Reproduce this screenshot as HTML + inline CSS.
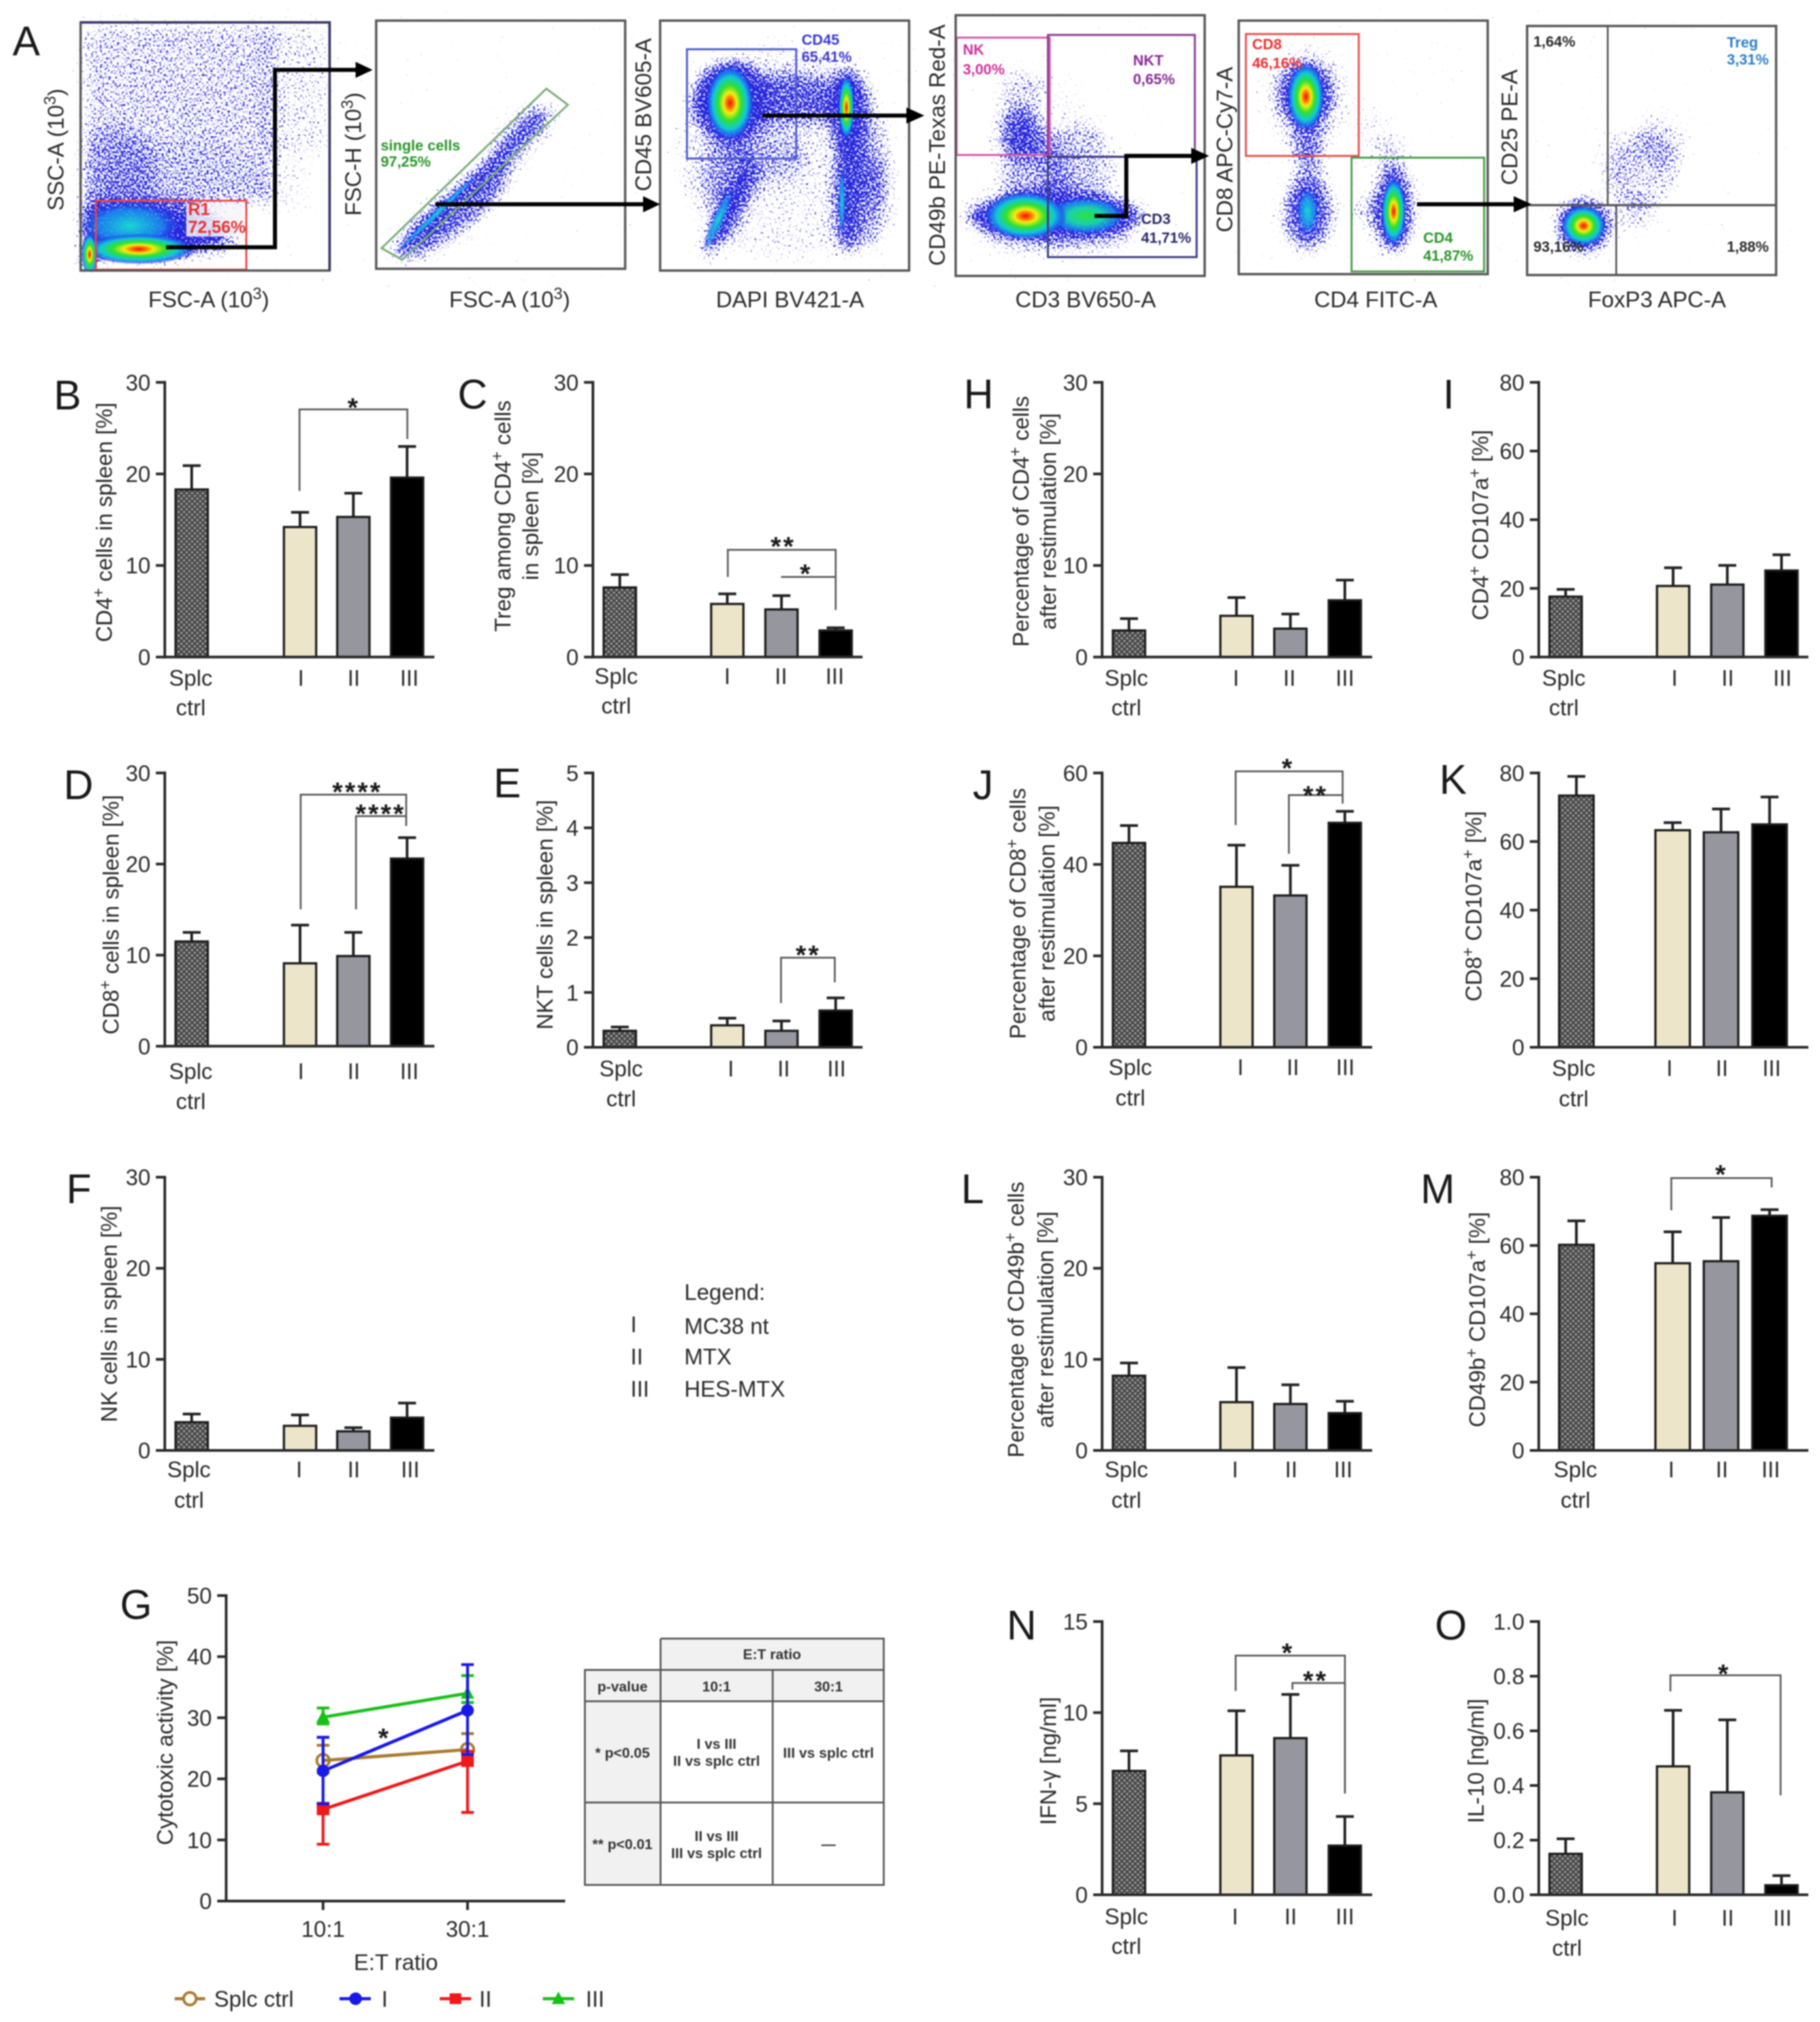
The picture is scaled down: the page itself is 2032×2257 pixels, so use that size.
<!DOCTYPE html>
<html lang="en">
<head>
<meta charset="utf-8">
<title>Flow cytometry and immune response panels</title>
<style>
html,body{margin:0;padding:0;background:#fff;width:2032px;height:2257px;overflow:hidden}
svg{display:block;filter:blur(0.8px)}
text{font-family:"Liberation Sans",sans-serif;fill:#2b2b2b;white-space:pre}
.axl{font-size:25px;text-anchor:middle}
.gl{font-size:16.5px;font-weight:bold}
.pl{font-size:46px;fill:#1a1a1a}
.tb{font-size:16px;font-weight:bold;text-anchor:middle;fill:#333}
.gate{fill:none;stroke-width:2.2}
.frame{fill:none;stroke:#555;stroke-width:2.6}
.arr{fill:none;stroke:#000;stroke-width:4.5}
</style>
</head>
<body>
<svg id="fig" xmlns="http://www.w3.org/2000/svg" width="2032" height="2257" viewBox="0 0 2032 2257">
<defs>
  <pattern id="hatch" width="6" height="6" patternUnits="userSpaceOnUse">
    <rect width="6" height="6" fill="#4a4a4a"/>
    <circle cx="1.5" cy="1.5" r="1.2" fill="#a8a8a8"/>
    <circle cx="4.5" cy="4.5" r="1.2" fill="#a8a8a8"/>
  </pattern>
  <radialGradient id="heat">
    <stop offset="0" stop-color="#f01010"/>
    <stop offset=".14" stop-color="#ff7000"/>
    <stop offset=".27" stop-color="#f4ee10"/>
    <stop offset=".47" stop-color="#30e030"/>
    <stop offset=".7" stop-color="#10c8d8"/>
    <stop offset=".88" stop-color="#1e60f0" stop-opacity=".8"/>
    <stop offset="1" stop-color="#1a1ae6" stop-opacity="0"/>
  </radialGradient>
  <radialGradient id="warm">
    <stop offset="0" stop-color="#30e040"/>
    <stop offset=".45" stop-color="#18d0b0"/>
    <stop offset=".8" stop-color="#1880f0" stop-opacity=".8"/>
    <stop offset="1" stop-color="#1a1ae6" stop-opacity="0"/>
  </radialGradient>
  <radialGradient id="cool">
    <stop offset="0" stop-color="#18d8d0"/>
    <stop offset=".6" stop-color="#1890f0" stop-opacity=".8"/>
    <stop offset="1" stop-color="#1a1ae6" stop-opacity="0"/>
  </radialGradient>
  <filter id="speckle" filterUnits="userSpaceOnUse" x="80" y="10" width="1920" height="310" color-interpolation-filters="sRGB">
    <feGaussianBlur in="SourceAlpha" stdDeviation="9" result="d"/>
    <feTurbulence type="fractalNoise" baseFrequency="0.42" numOctaves="2" seed="7" result="n"/>
    <feColorMatrix in="n" type="matrix" values="0 0 0 0 0  0 0 0 0 0  0 0 0 0 0  1 0 0 0 0" result="na"/>
    <feComposite in="d" in2="na" operator="arithmetic" k1="0" k2="0.55" k3="1" k4="-0.8" result="sum"/>
    <feComponentTransfer in="sum" result="mask"><feFuncA type="linear" slope="6" intercept="0"/></feComponentTransfer>
    <feFlood flood-color="#2626dc"/>
    <feComposite in2="mask" operator="in"/>
  </filter>
  <clipPath id="cp1"><rect x="90" y="25" width="278" height="277"/></clipPath>
  <clipPath id="cp2"><rect x="420" y="23" width="278" height="277"/></clipPath>
  <clipPath id="cp3"><rect x="737" y="23" width="278" height="279"/></clipPath>
  <clipPath id="cp4"><rect x="1067" y="17" width="278" height="291"/></clipPath>
  <clipPath id="cp5"><rect x="1383" y="23" width="278" height="283"/></clipPath>
  <clipPath id="cp6"><rect x="1705" y="29" width="278" height="278"/></clipPath>
</defs>
<rect width="2032" height="2257" fill="#fff"/>

<!-- Flow cytometry density clouds -->
<g filter="url(#speckle)">
  <g clip-path="url(#cp1)">
    <rect x="90" y="20" width="215" height="210" opacity=".48"/>
    <rect x="295" y="20" width="75" height="150" opacity=".36"/>
    <rect x="295" y="165" width="50" height="75" opacity=".26"/>
    <ellipse cx="130" cy="195" rx="45" ry="55" opacity=".35"/>
    <ellipse cx="205" cy="205" rx="95" ry="48" opacity=".15"/>
    <ellipse cx="150" cy="256" rx="105" ry="32" opacity="1"/>
    <ellipse cx="215" cy="278" rx="70" ry="10" transform="rotate(-8 215 278)" opacity=".7"/>
    <ellipse cx="100" cy="270" rx="16" ry="34" opacity="1"/>
  </g>
  <g clip-path="url(#cp2)">
    <ellipse cx="528" cy="203" rx="128" ry="9" transform="rotate(-44 528 203)" opacity="1"/>
    <ellipse cx="505" cy="240" rx="80" ry="25" transform="rotate(-37 505 240)" opacity=".75"/>
    <ellipse cx="575" cy="160" rx="48" ry="24" transform="rotate(-60 575 160)" opacity=".45"/>
    <ellipse cx="602" cy="135" rx="18" ry="20" opacity=".45"/>
  </g>
  <g clip-path="url(#cp3)">
    <ellipse cx="815" cy="112" rx="44" ry="46" opacity="1"/>
    <ellipse cx="880" cy="110" rx="70" ry="30" opacity=".7"/>
    <ellipse cx="948" cy="125" rx="22" ry="52" opacity="1"/>
    <ellipse cx="945" cy="210" rx="14" ry="80" opacity=".9"/>
    <ellipse cx="815" cy="235" rx="13" ry="62" transform="rotate(28 815 235)" opacity="1"/>
    <ellipse cx="812" cy="195" rx="32" ry="45" opacity=".5"/>
    <ellipse cx="860" cy="175" rx="45" ry="30" opacity=".4"/>
    <ellipse cx="965" cy="225" rx="32" ry="58" opacity=".55"/>
    <ellipse cx="975" cy="180" rx="18" ry="50" opacity=".3"/>
    <ellipse cx="875" cy="170" rx="125" ry="122" opacity=".3"/>
  </g>
  <g clip-path="url(#cp4)">
    <ellipse cx="1178" cy="241" rx="102" ry="28" opacity="1"/>
    <ellipse cx="1139" cy="150" rx="24" ry="30" opacity=".8"/>
    <ellipse cx="1155" cy="195" rx="38" ry="55" opacity=".45"/>
    <ellipse cx="1205" cy="185" rx="45" ry="50" opacity=".42"/>
    <ellipse cx="1140" cy="105" rx="26" ry="35" opacity=".35"/>
    <ellipse cx="1180" cy="270" rx="90" ry="18" opacity=".4"/>
    <ellipse cx="1165" cy="165" rx="65" ry="90" opacity=".2"/>
  </g>
  <g clip-path="url(#cp5)">
    <ellipse cx="1458" cy="105" rx="32" ry="38" opacity=".95"/>
    <ellipse cx="1460" cy="155" rx="20" ry="32" opacity=".65"/>
    <ellipse cx="1462" cy="205" rx="22" ry="38" opacity=".5"/>
    <ellipse cx="1460" cy="240" rx="30" ry="42" opacity=".8"/>
    <ellipse cx="1556" cy="235" rx="24" ry="50" opacity=".95"/>
    <ellipse cx="1530" cy="235" rx="30" ry="18" opacity=".4"/>
    <ellipse cx="1555" cy="180" rx="18" ry="28" opacity=".45"/>
    <ellipse cx="1535" cy="150" rx="22" ry="32" opacity=".25"/>
    <ellipse cx="1460" cy="110" rx="55" ry="65" opacity=".25"/>
  </g>
  <g clip-path="url(#cp6)">
    <ellipse cx="1768" cy="252" rx="32" ry="32" opacity="1"/>
    <ellipse cx="1825" cy="240" rx="22" ry="22" opacity=".42"/>
    <ellipse cx="1835" cy="190" rx="42" ry="45" opacity=".42"/>
    <ellipse cx="1855" cy="155" rx="30" ry="32" opacity=".36"/>
    <ellipse cx="1800" cy="180" rx="22" ry="40" opacity=".25"/>
  </g>
</g>

<!-- Pseudo-colour density peaks -->
<g>
  <g clip-path="url(#cp1)">
    <ellipse cx="145" cy="252" rx="60" ry="30" fill="url(#cool)"/>
    <ellipse cx="155" cy="278" rx="62" ry="17" fill="url(#heat)"/>
    <ellipse cx="100" cy="284" rx="9" ry="24" fill="url(#heat)"/>
  </g>
  <ellipse cx="488" cy="238" rx="72" ry="4" transform="rotate(-44 488 238)" fill="url(#cool)"/>
  <g>
    <ellipse cx="815" cy="115" rx="27" ry="42" fill="url(#heat)"/>
    <ellipse cx="945" cy="120" rx="9" ry="36" fill="url(#heat)"/>
    <ellipse cx="802" cy="245" rx="7" ry="40" transform="rotate(24 802 245)" fill="url(#cool)"/>
    <ellipse cx="940" cy="225" rx="4" ry="40" fill="url(#cool)"/>
  </g>
  <g>
    <ellipse cx="1212" cy="241" rx="44" ry="21" fill="url(#warm)"/>
    <ellipse cx="1145" cy="241" rx="46" ry="27" fill="url(#heat)"/>
  </g>
  <g>
    <ellipse cx="1458" cy="108" rx="21" ry="38" fill="url(#heat)"/>
    <ellipse cx="1460" cy="236" rx="13" ry="28" fill="url(#cool)"/>
    <ellipse cx="1556" cy="236" rx="14" ry="38" fill="url(#heat)"/>
  </g>
  <ellipse cx="1768" cy="252" rx="25" ry="23" fill="url(#heat)"/>
</g>

<!-- Gates -->
<g>
  <rect x="208" y="227" width="64" height="37" fill="#f4f4fa" opacity=".85"/>
  <rect class="gate" x="107" y="224" width="168" height="77" stroke="#e84848"/>
  <polygon class="gate" points="610,99 634,117 449,290 426,277" stroke="#79ac79"/>
  <rect class="gate" x="767" y="55" width="122" height="122" stroke="#4a5ad0"/>
  <rect class="gate" x="1068" y="42" width="104" height="131" stroke="#d458aa"/>
  <rect class="gate" x="1170" y="39" width="164" height="136" stroke="#8a3a90"/>
  <rect class="gate" x="1170" y="175" width="166" height="112" stroke="#3a3a80"/>
  <rect class="gate" x="1391" y="38" width="126" height="136" stroke="#e85050"/>
  <rect class="gate" x="1509" y="176" width="148" height="127" stroke="#4a9a4a"/>
  <line x1="1795" y1="29" x2="1795" y2="230" stroke="#555" stroke-width="2"/>
  <line x1="1804.5" y1="230" x2="1804.5" y2="307" stroke="#555" stroke-width="2"/>
  <line x1="1705" y1="229" x2="1982" y2="229" stroke="#555" stroke-width="2.4"/>
</g>

<!-- Plot frames -->
<g>
  <rect class="frame" x="90" y="25" width="278" height="277"/>
  <path d="M90 25H368V302" fill="none" stroke="#34346e" stroke-width="2.6"/>
  <rect class="frame" x="420" y="23" width="278" height="277"/>
  <rect class="frame" x="737" y="23" width="278" height="279"/>
  <rect class="frame" x="1067" y="17" width="278" height="291"/>
  <rect class="frame" x="1383" y="23" width="278" height="283"/>
  <rect class="frame" x="1705" y="29" width="278" height="278"/>
</g>

<!-- Gating arrows -->
<g>
  <path class="arr" d="M185.5 276H307V78H400"/>
  <polygon points="397,69 397,87 416,78"/>
  <path class="arr" d="M486 228H722"/>
  <polygon points="718,219 718,237 737,228"/>
  <path class="arr" d="M851 129H1016"/>
  <polygon points="1012,120 1012,138 1032,129"/>
  <path class="arr" d="M1222 241H1257.5V174H1333"/>
  <polygon points="1330,165 1330,183 1350,174"/>
  <path class="arr" d="M1582 228H1694"/>
  <polygon points="1690,219 1690,237 1710,228"/>
</g>

<!-- Flow axis labels -->
<g>
  <text class="axl" x="233" y="343">FSC-A (10<tspan dy="-9" font-size="18">3</tspan><tspan dy="9">)</tspan></text>
  <text class="axl" x="569" y="343">FSC-A (10<tspan dy="-9" font-size="18">3</tspan><tspan dy="9">)</tspan></text>
  <text class="axl" x="882" y="343">DAPI BV421-A</text>
  <text class="axl" x="1212" y="343">CD3 BV650-A</text>
  <text class="axl" x="1536" y="343">CD4 FITC-A</text>
  <text class="axl" x="1850" y="343">FoxP3 APC-A</text>
  <text class="axl" transform="translate(71 167) rotate(-90)">SSC-A (10<tspan dy="-9" font-size="18">3</tspan><tspan dy="9">)</tspan></text>
  <text class="axl" transform="translate(403 172) rotate(-90)">FSC-H (10<tspan dy="-9" font-size="18">3</tspan><tspan dy="9">)</tspan></text>
  <text class="axl" transform="translate(727 128) rotate(-90)">CD45 BV605-A</text>
  <text class="axl" transform="translate(1055 162) rotate(-90)">CD49b PE-Texas Red-A</text>
  <text class="axl" transform="translate(1376 167) rotate(-90)">CD8 APC-Cy7-A</text>
  <text class="axl" transform="translate(1694 142) rotate(-90)">CD25 PE-A</text>
</g>

<!-- Gate labels -->
<g>
  <text class="gl" style="fill:#e83030;font-size:19px"><tspan x="210" y="240">R1</tspan><tspan x="210" y="260">72,56%</tspan></text>
  <text class="gl" style="fill:#2a962a"><tspan x="425" y="168">single cells</tspan><tspan x="425" y="186">97,25%</tspan></text>
  <text class="gl" style="fill:#3a3ad0"><tspan x="895" y="50">CD45</tspan><tspan x="895" y="69">65,41%</tspan></text>
  <text class="gl" style="fill:#d0309a"><tspan x="1075" y="61">NK</tspan><tspan x="1075" y="83">3,00%</tspan></text>
  <text class="gl" style="fill:#8a2a9a"><tspan x="1265" y="73">NKT</tspan><tspan x="1265" y="94">0,65%</tspan></text>
  <text class="gl" style="fill:#2a2a6a"><tspan x="1274" y="250">CD3</tspan><tspan x="1274" y="271">41,71%</tspan></text>
  <text class="gl" style="fill:#f03030"><tspan x="1398" y="55">CD8</tspan><tspan x="1398" y="76">46,16%</tspan></text>
  <text class="gl" style="fill:#2a962a"><tspan x="1589" y="271">CD4</tspan><tspan x="1589" y="291">41,87%</tspan></text>
  <text class="gl" x="1712" y="52">1,64%</text>
  <text class="gl" style="fill:#2a80c8"><tspan x="1928" y="53">Treg</tspan><tspan x="1928" y="72">3,31%</tspan></text>
  <text class="gl" x="1712" y="281">93,16%</text>
  <text class="gl" x="1928" y="281">1,88%</text>
</g>

<!-- Panel letters -->
<g>
  <text class="pl" x="14" y="62">A</text>
  <text class="pl" x="60" y="457">B</text>
  <text class="pl" x="511" y="456">C</text>
  <text class="pl" x="71" y="892">D</text>
  <text class="pl" x="551" y="890">E</text>
  <text class="pl" x="74" y="1343">F</text>
  <text class="pl" x="134" y="1807">G</text>
  <text class="pl" x="1076" y="456">H</text>
  <text class="pl" x="1611" y="456">I</text>
  <text class="pl" x="1086" y="892">J</text>
  <text class="pl" x="1607" y="886">K</text>
  <text class="pl" x="1073" y="1343">L</text>
  <text class="pl" x="1586" y="1343">M</text>
  <text class="pl" x="1124" y="1830">N</text>
  <text class="pl" x="1602" y="1830">O</text>
</g>

<!-- Group key -->
<g font-size="25">
  <text x="764" y="1451" font-size="25">Legend:</text>
  <text x="704" y="1487" font-size="25">I</text>
  <text x="764" y="1489" font-size="25">MC38 nt</text>
  <text x="704" y="1523" font-size="25">II</text>
  <text x="764" y="1523" font-size="25">MTX</text>
  <text x="704" y="1559" font-size="25">III</text>
  <text x="764" y="1559" font-size="25">HES-MTX</text>
</g>

<!-- Significance table -->
<g>
  <rect x="737.5" y="1829" width="249" height="70" fill="#f1f1f1"/>
  <rect x="653" y="1864" width="84.5" height="240" fill="#f1f1f1"/>
  <path d="M737.5 1829H986.7V2104H653V1864H986.7M653 1899H986.7M653 2012H986.7M737.5 1829V2104M862.7 1864V2104" fill="none" stroke="#555" stroke-width="2"/>
  <text class="tb" x="862" y="1852">E:T ratio</text>
  <text class="tb" x="695" y="1888">p-value</text>
  <text class="tb" x="800" y="1888">10:1</text>
  <text class="tb" x="925" y="1888">30:1</text>
  <text class="tb" x="695" y="1962">* p&lt;0.05</text>
  <text class="tb" x="800" y="1952">I vs III</text>
  <text class="tb" x="800" y="1971">II vs splc ctrl</text>
  <text class="tb" x="925" y="1962">III vs splc ctrl</text>
  <text class="tb" x="695" y="2064">** p&lt;0.01</text>
  <text class="tb" x="800" y="2055">II vs III</text>
  <text class="tb" x="800" y="2074">III vs splc ctrl</text>
  <text class="tb" x="925" y="2064">—</text>
</g>

<!-- Panel G legend -->
<g>
  <g>
    <line x1="195" y1="2231" x2="229" y2="2231" stroke="#a87a30" stroke-width="3.5"/>
    <circle cx="212" cy="2231" r="7" fill="#fff" stroke="#a87a30" stroke-width="3"/>
    <text x="239" y="2240" font-size="25">Splc ctrl</text>
  </g>
  <g>
    <line x1="379" y1="2231" x2="414" y2="2231" stroke="#1818e8" stroke-width="3.5"/>
    <circle cx="397" cy="2231" r="7" fill="#1818e8"/>
    <text x="426" y="2240" font-size="25">I</text>
  </g>
  <g>
    <line x1="491" y1="2231" x2="526" y2="2231" stroke="#f01818" stroke-width="3.5"/>
    <rect x="502" y="2225" width="13" height="12" fill="#f01818"/>
    <text x="535" y="2240" font-size="25">II</text>
  </g>
  <g>
    <line x1="606" y1="2231" x2="641" y2="2231" stroke="#18c018" stroke-width="3.5"/>
    <polygon points="623.5,2223 631,2237 616,2237" fill="#18c018"/>
    <text x="654" y="2240" font-size="25">III</text>
  </g>
</g>

<g id="charts"></g>
</svg>

<script>
const categories = ['Splc', 'I', 'II', 'III'];
const ticks30 = ['0', '10', '20', '30'];
const ticks80 = ['0', '20', '40', '60', '80'];

const panelB_values = [18.3, 14.2, 15.3, 19.6];
const panelB_upper = [20.9, 15.8, 17.9, 23.0];
const panelC_values = [7.6, 5.8, 5.2, 2.9];
const panelC_upper = [9.0, 6.9, 6.7, 3.2];
const panelD_values = [11.5, 9.1, 9.9, 20.6];
const panelD_upper = [12.5, 13.3, 12.5, 22.9];
const panelE_values = [0.3, 0.4, 0.3, 0.67];
const panelE_upper = [0.37, 0.53, 0.48, 0.9];
const panelE_ticks = ['0', '1', '2', '3', '4', '5'];
const panelF_values = [3.1, 2.7, 2.1, 3.6];
const panelF_upper = [4.0, 3.9, 2.5, 5.2];
const panelH_values = [2.9, 4.5, 3.1, 6.2];
const panelH_upper = [4.2, 6.5, 4.7, 8.4];
const panelI_values = [17.6, 20.7, 21.1, 25.2];
const panelI_upper = [19.7, 26.0, 26.7, 29.8];
const panelJ_values = [44.7, 35.1, 33.2, 49.1];
const panelJ_upper = [48.5, 44.2, 39.8, 51.6];
const panelJ_ticks = ['0', '20', '40', '60'];
const panelK_values = [73.4, 63.3, 62.7, 65.0];
const panelK_upper = [79.0, 65.5, 69.5, 73.0];
const panelL_values = [8.2, 5.3, 5.1, 4.1];
const panelL_upper = [9.6, 9.1, 7.2, 5.4];
const panelM_values = [60.2, 54.8, 55.4, 68.7];
const panelM_upper = [67.2, 64.0, 68.2, 70.5];
const panelN_values = [6.8, 7.65, 8.6, 2.7];
const panelN_upper = [7.9, 10.1, 11.0, 4.3];
const panelN_ticks = ['0', '5', '10', '15'];
const panelO_values = [0.15, 0.47, 0.375, 0.035];
const panelO_upper = [0.205, 0.675, 0.64, 0.07];
const panelO_ticks = ['0.0', '0.2', '0.4', '0.6', '0.8', '1.0'];

const ratioLabels = ['10:1', '30:1'];
const panelG_ticks = ['0', '10', '20', '30', '40', '50'];
const splc_values = [23.0, 24.8];
const splc_upper = [25.5, 27.4];
const splc_lower = [21.0, 22.5];
const groupI_values = [21.3, 31.2];
const groupI_upper = [26.8, 38.7];
const groupI_lower = [15.9, 24.0];
const groupII_values = [15.0, 22.9];
const groupII_upper = [16.0, 24.5];
const groupII_lower = [9.3, 14.5];
const groupIII_values = [30.1, 34.0];
const groupIII_upper = [31.6, 36.9];
const groupIII_lower = [29.0, 32.5];

const NS = 'http://www.w3.org/2000/svg';
const root = document.getElementById('charts');
const barFills = ['url(#hatch)', '#ece5ca', '#96969e', '#000'];

function mk(tag, attrs, parent, text) {
  const el = document.createElementNS(NS, tag);
  for (const k in attrs) el.setAttribute(k, attrs[k]);
  if (text !== undefined) el.textContent = text;
  parent.appendChild(el);
  return el;
}

function richText(el, str) {
  const parts = str.split('^');
  parts.forEach((part, i) => {
    if (i === 0) { mk('tspan', {}, el, part); return; }
    mk('tspan', {dy: -9, 'font-size': 18}, el, part[0]);
    mk('tspan', {dy: 9}, el, part.slice(1));
  });
}

function yTitle(parent, str, cx, cy, key) {
  const t = mk('text', {transform: 'translate(' + (cx + 9) + ' ' + cy + ') rotate(-90)', 'text-anchor': 'middle', 'font-size': 25}, parent);
  
  
  richText(t, str);
}

function drawYAxis(parent, p, yScale) {
  const axis = mk('line', {x1: p.axisX, x2: p.axisX, y1: p.yTop - 1.5, y2: p.y0 + 1.5, stroke: '#2b2b2b', 'stroke-width': 3}, parent);
  
  
  p.ticks.forEach(label => {
    const y = yScale(Number(label));
    const tick = mk('line', {x1: p.axisX - 10, x2: p.axisX, y1: y, y2: y, stroke: '#2b2b2b', 'stroke-width': 3}, parent);
    
    
    const txt = mk('text', {x: p.axisX - 16, y: y + 9, 'text-anchor': 'end', 'font-size': 25}, parent, label);
    
    
  });
}

function drawBracket(parent, b, id) {
  const [x1, x2, top, yl, yr, stars, sx, sy] = b;
  const line = mk('path', {d: 'M' + x1 + ' ' + yl + 'V' + top + 'H' + x2 + 'V' + yr, fill: 'none', stroke: '#5a5a5a', 'stroke-width': 2}, parent);
  
  
  const star = mk('text', {x: sx, y: sy + 18, 'text-anchor': 'middle', 'font-size': 30, 'font-weight': 'bold', 'letter-spacing': 2.3, style: 'fill:#1a1a1a'}, parent, stars);
  
  
}

function drawBarPanel(p) {
  const g = mk('g', {}, root);
  
  
  const yScale = v => p.y0 - (v / p.max) * (p.y0 - p.yTop);
  const w = p.barWidth || 38.5;
  p.values.forEach((v, i) => {
    const cx = p.centers[i];
    const err = mk('path', {d: 'M' + cx + ' ' + yScale(v) + 'V' + yScale(p.upper[i]) + 'M' + (cx - 10) + ' ' + yScale(p.upper[i]) + 'H' + (cx + 10), fill: 'none', stroke: '#222', 'stroke-width': 3}, g);
    
    
    const bar = mk('rect', {x: cx - w / 2 + 1.25, y: yScale(v), width: w - 2.5, height: p.y0 - yScale(v), fill: barFills[i], stroke: '#1c1c1c', 'stroke-width': 2.5}, g);
    
    
  });
  const xAxis = mk('line', {x1: p.axisX - 1.5, x2: p.axisEnd, y1: p.y0, y2: p.y0, stroke: '#2b2b2b', 'stroke-width': 3}, g);
  
  
  drawYAxis(g, p, yScale);
  categories.forEach((c, i) => {
    const lab = mk('text', {x: p.labelX[i], y: p.y0 + p.dy1, 'text-anchor': 'middle', 'font-size': 25}, g, c);
    
    
  });
  const ctrl = mk('text', {x: p.labelX[0], y: p.y0 + p.dy2, 'text-anchor': 'middle', 'font-size': 25}, g, 'ctrl');
  
  
  p.titles.forEach((t, i) => yTitle(g, t, p.titleX[i], p.titleY, p.id));
  (p.brackets || []).forEach(b => drawBracket(g, b, p.id));
}

const leftBars = {axisX: 184, axisEnd: 485, centers: [214, 335, 394.5, 454.5]};
const secondBars = {axisX: 662, axisEnd: 963, centers: [692, 812, 872.5, 933]};
const thirdBars = {axisX: 1230.5, axisEnd: 1532, centers: [1260.5, 1380.5, 1440.7, 1501.5]};
const fourthBars = {axisX: 1718, axisEnd: 2019, centers: [1748, 1868, 1928.5, 1989]};
const wideBars = {axisX: 1718, axisEnd: 2019, centers: [1760, 1867.5, 1921.5, 1975.7], barWidth: 41};

drawBarPanel(Object.assign({id: 'b', values: panelB_values, upper: panelB_upper, ticks: ticks30, max: 30, y0: 733.4, yTop: 426.8, labelX: [213, 336, 395, 457], dy1: 32, dy2: 65, titles: ['CD4^+ cells in spleen [%]'], titleX: [116], titleY: 583,
  brackets: [[334.4, 454.8, 457, 548, 490, '*', 395, 447]]}, leftBars));
drawBarPanel(Object.assign({id: 'c', values: panelC_values, upper: panelC_upper, ticks: ticks30, max: 30, y0: 733.4, yTop: 426.8, labelX: [688, 812, 872, 932], dy1: 30, dy2: 63, titles: ['Treg among CD4^+ cells', 'in spleen [%]'], titleX: [561, 592], titleY: 576,
  brackets: [[812.6, 933, 613.8, 644, 680.7, '**', 874.4, 602], [872, 933, 644, 644, 680.7, '*', 900, 632.5]]}, secondBars));
drawBarPanel(Object.assign({id: 'd', values: panelD_values, upper: panelD_upper, ticks: ticks30, max: 30, y0: 1167.8, yTop: 862.8, labelX: [213, 336, 395, 457], dy1: 36.5, dy2: 70, titles: ['CD8^+ cells in spleen [%]'], titleX: [123.6], titleY: 1021,
  brackets: [[335.7, 453.5, 887, 1015, 922, '****', 399, 876], [397.5, 453.5, 911, 1015, 922, '****', 425, 900.7]]}, leftBars));
drawBarPanel(Object.assign({id: 'e', values: panelE_values, upper: panelE_upper, ticks: panelE_ticks, max: 5, y0: 1169, yTop: 862.8, labelX: [693.5, 816, 875, 934], dy1: 32.5, dy2: 66, titles: ['NKT cells in spleen [%]'], titleX: [608], titleY: 1021,
  brackets: [[872, 932, 1069, 1119.6, 1096.5, '**', 902.4, 1058]]}, secondBars));
drawBarPanel(Object.assign({id: 'f', values: panelF_values, upper: panelF_upper, ticks: ticks30, max: 30, y0: 1619, yTop: 1314, labelX: [211, 334, 395, 458], dy1: 30, dy2: 64, titles: ['NK cells in spleen [%]'], titleX: [121.7], titleY: 1466.6}, leftBars));
drawBarPanel(Object.assign({id: 'h', values: panelH_values, upper: panelH_upper, ticks: ticks30, max: 30, y0: 733.4, yTop: 426.8, labelX: [1257.6, 1380, 1439.6, 1501.6], dy1: 32, dy2: 65, titles: ['Percentage of CD4^+ cells', 'after restimulation [%]'], titleX: [1139.4, 1170], titleY: 582}, thirdBars));
drawBarPanel(Object.assign({id: 'i', values: panelI_values, upper: panelI_upper, ticks: ticks80, max: 80, y0: 733.4, yTop: 426.8, labelX: [1746, 1869.6, 1929, 1990], dy1: 32, dy2: 65, titles: ['CD4^+ CD107a^+ [%]'], titleX: [1652.7], titleY: 586}, fourthBars));
drawBarPanel(Object.assign({id: 'j', values: panelJ_values, upper: panelJ_upper, ticks: panelJ_ticks, max: 60, y0: 1169, yTop: 862.8, labelX: [1262, 1385, 1443.5, 1502], dy1: 31, dy2: 65, titles: ['Percentage of CD8^+ cells', 'after restimulation [%]'], titleX: [1136, 1168.5], titleY: 1019.7,
  brackets: [[1379.6, 1499, 861, 921, 897, '*', 1438, 849.7], [1439, 1499, 887.5, 953, 897, '**', 1468.7, 880]]}, thirdBars));
drawBarPanel(Object.assign({id: 'k', values: panelK_values, upper: panelK_upper, ticks: ticks80, max: 80, y0: 1169, yTop: 862.8, labelX: [1757, 1864, 1922.5, 1978], dy1: 32, dy2: 66, titles: ['CD8^+ CD107a^+ [%]'], titleX: [1645], titleY: 1011.5}, wideBars));
drawBarPanel(Object.assign({id: 'l', values: panelL_values, upper: panelL_upper, ticks: ticks30, max: 30, y0: 1619, yTop: 1314, labelX: [1257.6, 1379, 1441.6, 1499.7], dy1: 30, dy2: 64, titles: ['Percentage of CD49b^+ cells', 'after restimulation [%]'], titleX: [1134, 1167], titleY: 1473}, thirdBars));
drawBarPanel(Object.assign({id: 'm', values: panelM_values, upper: panelM_upper, ticks: ticks80, max: 80, y0: 1619, yTop: 1314, labelX: [1759, 1866, 1922.5, 1977], dy1: 30, dy2: 64, titles: ['CD49b^+ CD107a^+ [%]'], titleX: [1649], titleY: 1473,
  brackets: [[1866, 1978, 1315, 1351, 1325.5, '*', 1922, 1303]]}, wideBars));
drawBarPanel(Object.assign({id: 'n', values: panelN_values, upper: panelN_upper, ticks: panelN_ticks, max: 15, y0: 2115, yTop: 1810, labelX: [1257.6, 1379, 1441, 1501.6], dy1: 33, dy2: 66, titles: ['IFN-γ [ng/ml]'], titleX: [1170], titleY: 1965.6,
  brackets: [[1379.6, 1501.6, 1848, 1887.5, 2002, '*', 1438, 1837], [1443, 1501.6, 1878.6, 1886, 2002, '**', 1468.7, 1868]]}, thirdBars));
drawBarPanel(Object.assign({id: 'o', values: panelO_values, upper: panelO_upper, ticks: panelO_ticks, max: 1, y0: 2115, yTop: 1810, labelX: [1749.5, 1869.6, 1929, 1990], dy1: 34.5, dy2: 68, titles: ['IL-10 [ng/ml]'], titleX: [1647.5], titleY: 1965.6,
  brackets: [[1865, 1988, 1870, 1888, 2004, '*', 1925, 1860.7]]}, fourthBars));

/* Panel G: cytotoxic activity line chart */
(function drawLinePanel() {
  const p = {id: 'g', axisX: 252.5, y0: 2122, yTop: 1781, max: 50, ticks: panelG_ticks};
  const g = mk('g', {}, root);
  
  
  const yScale = v => p.y0 - (v / p.max) * (p.y0 - p.yTop);
  const xPos = [360.7, 522];
  const xAxis = mk('line', {x1: 251, x2: 631, y1: p.y0, y2: p.y0, stroke: '#2b2b2b', 'stroke-width': 3}, g);
  
  
  drawYAxis(g, p, yScale);
  ratioLabels.forEach((label, i) => {
    const tick = mk('line', {x1: xPos[i], x2: xPos[i], y1: p.y0, y2: p.y0 + 10, stroke: '#2b2b2b', 'stroke-width': 3}, g);
    
    
    const txt = mk('text', {x: xPos[i], y: 2162, 'text-anchor': 'middle', 'font-size': 25}, g, label);
    
    
  });
  const xt = mk('text', {x: 442, y: 2199, 'text-anchor': 'middle', 'font-size': 25}, g, 'E:T ratio');
  
  
  yTitle(g, 'Cytotoxic activity [%]', 184, 1945, 'g');

  function series(key, color, values, upper, lower, marker) {
    const s = mk('g', {}, g);
    
    
    values.forEach((v, i) => {
      const x = xPos[i];
      const err = mk('path', {d: 'M' + x + ' ' + yScale(lower[i]) + 'V' + yScale(upper[i]) + 'M' + (x - 7) + ' ' + yScale(upper[i]) + 'H' + (x + 7) + 'M' + (x - 7) + ' ' + yScale(lower[i]) + 'H' + (x + 7), fill: 'none', stroke: color, 'stroke-width': 3.2}, s);
      
      
    });
    const line = mk('polyline', {points: values.map((v, i) => xPos[i] + ',' + yScale(v)).join(' '), fill: 'none', stroke: color, 'stroke-width': 3.6}, s);
    
    
    values.forEach((v, i) => {
      const x = xPos[i], y = yScale(v);
      let m;
      if (marker === 'open') m = mk('circle', {cx: x, cy: y, r: 7, fill: 'none', stroke: color, 'stroke-width': 3}, s);
      if (marker === 'circle') m = mk('circle', {cx: x, cy: y, r: 7, fill: color}, s);
      if (marker === 'square') m = mk('rect', {x: x - 7, y: y - 6.5, width: 14, height: 13, fill: color}, s);
      if (marker === 'triangle') m = mk('polygon', {points: x + ',' + (y - 8) + ' ' + (x + 7.5) + ',' + (y + 6) + ' ' + (x - 7.5) + ',' + (y + 6), fill: color}, s);
      
      
    });
  }
  series('splc-ctrl', '#a87a30', splc_values, splc_upper, splc_lower, 'open');
  series('iii', '#18c018', groupIII_values, groupIII_upper, groupIII_lower, 'triangle');
  series('ii', '#f01818', groupII_values, groupII_upper, groupII_lower, 'square');
  series('i', '#1818e8', groupI_values, groupI_upper, groupI_lower, 'circle');
  const star = mk('text', {x: 428, y: 1932 + 18, 'text-anchor': 'middle', 'font-size': 30, 'font-weight': 'bold', style: 'fill:#1a1a1a'}, g, '*');
  
  
})();
</script>
</body>
</html>
